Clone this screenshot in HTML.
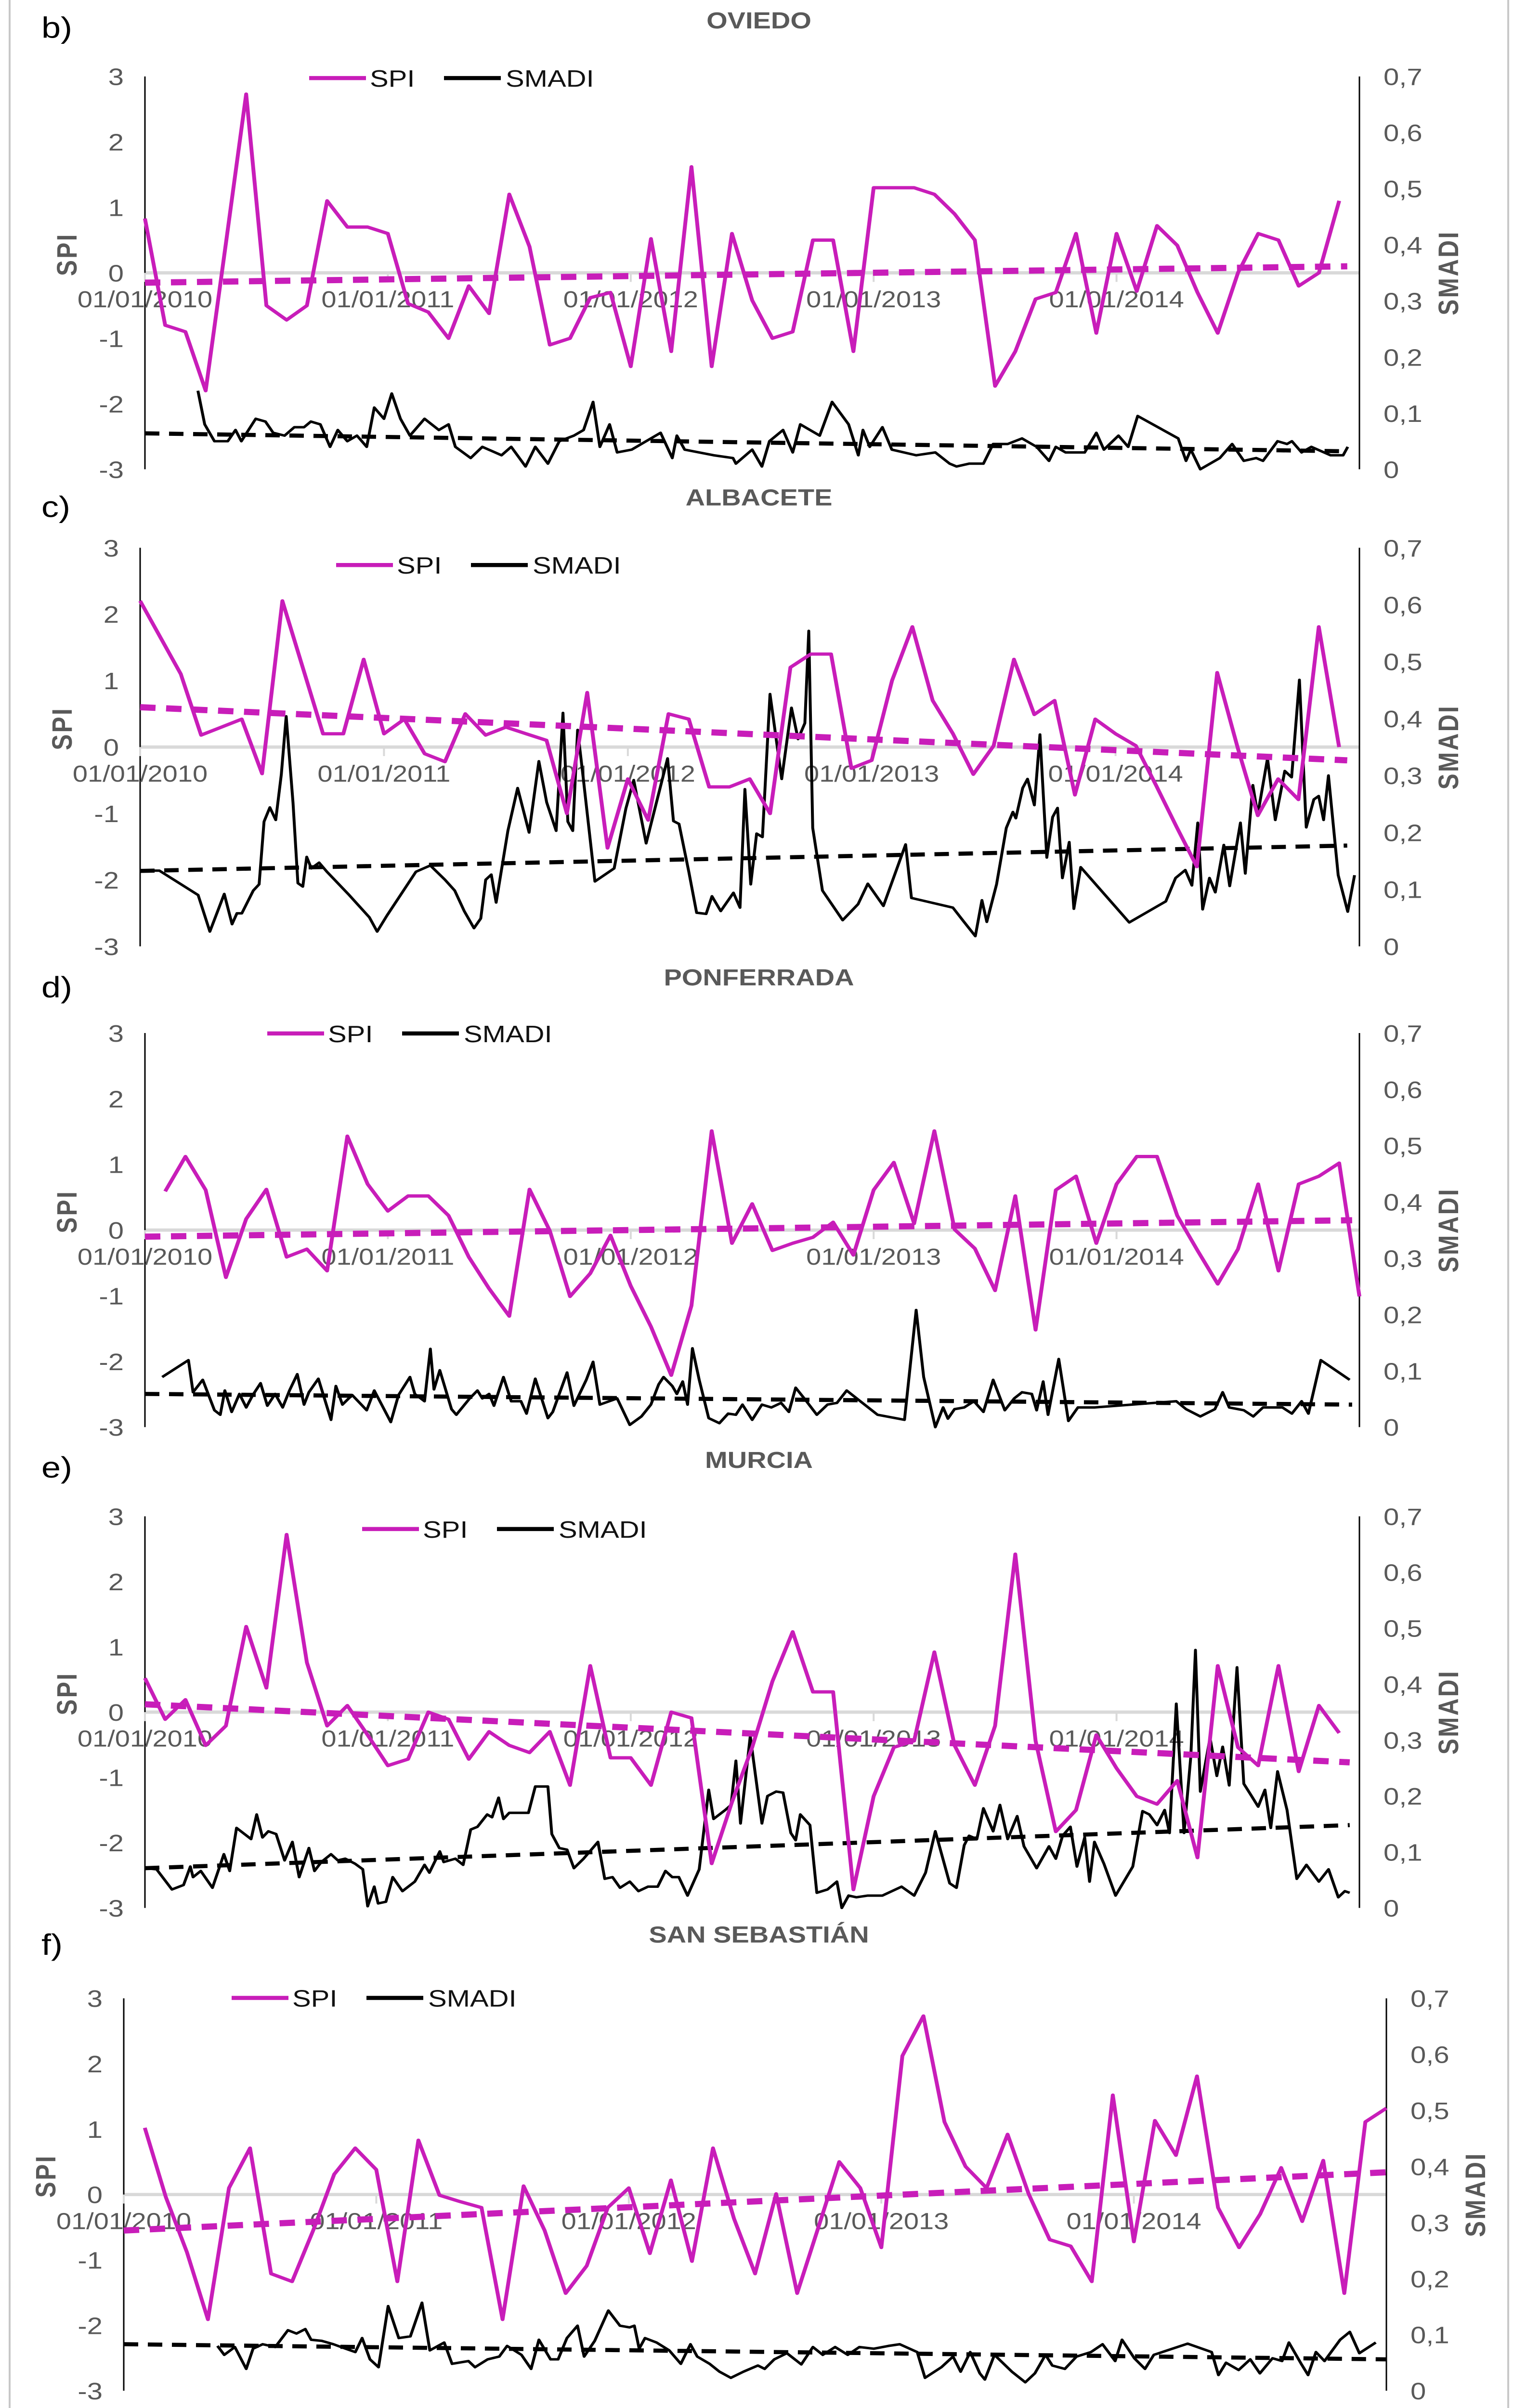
<!DOCTYPE html>
<html><head><meta charset="utf-8"><style>
html,body{margin:0;padding:0;background:#fff;width:100%;height:100%;overflow:hidden;}
svg{display:block;width:100vw;height:100vh;}
text{font-family:"Liberation Sans",Arial,sans-serif;}
</style></head><body>
<svg id="chart" xmlns="http://www.w3.org/2000/svg" viewBox="0 0 3144 5860" preserveAspectRatio="none">
<rect x="0" y="0" width="3144" height="5860" fill="#fff"/>
<line x1="20" y1="0" x2="20" y2="5860" stroke="#c8c8c8" stroke-width="4"/>
<line x1="3132" y1="0" x2="3132" y2="5860" stroke="#c8c8c8" stroke-width="4"/>
</svg>
<script>
// ---- shared tick labels ----
const spiTicks = [3, 2, 1, 0, -1, -2, -3];
const smadiTicks = [0.7, 0.6, 0.5, 0.4, 0.3, 0.2, 0.1, 0];
const yearLabels = ['01/01/2010', '01/01/2011', '01/01/2012', '01/01/2013', '01/01/2014'];
const stationNames = ['OVIEDO', 'ALBACETE', 'PONFERRADA', 'MURCIA', 'SAN SEBASTIÁN'];
const panelLetters = ['b)', 'c)', 'd)', 'e)', 'f)'];

// ---- OVIEDO ----
const oviedoSpi = [0.83,-0.8,-0.9,-1.8,0.45,2.73,-0.5,-0.72,-0.5,1.1,0.7,0.7,0.6,-0.47,-0.6,-1.0,-0.2,-0.62,1.2,0.4,-1.1,-1.0,-0.38,-0.3,-1.43,0.52,-1.2,1.62,-1.43,0.6,-0.42,-1.0,-0.9,0.5,0.5,-1.2,1.3,1.3,1.3,1.2,0.9,0.5,-1.73,-1.2,-0.4,-0.3,0.6,-0.92,0.6,-0.28,0.72,0.42,-0.3,-0.92,0,0.6,0.5,-0.2,0,1.1];
const oviedoSmadiT = [.218,.246,.286,.341,.373,.397,.456,.496,.528,.575,.615,.655,.683,.722,.762,.794,.833,.873,.913,.944,.984,1.016,1.052,1.091,1.151,1.21,1.25,1.278,1.341,1.389,1.468,1.508,1.567,1.607,1.659,1.706,1.766,1.806,1.845,1.873,1.913,1.944,2.004,2.123,2.171,2.19,2.222,2.341,2.421,2.433,2.5,2.54,2.571,2.627,2.667,2.698,2.778,2.829,2.897,2.937,2.956,2.984,3.036,3.075,3.175,3.254,3.313,3.341,3.393,3.452,3.492,3.552,3.611,3.671,3.722,3.75,3.79,3.869,3.917,3.948,4.008,4.048,4.087,4.254,4.286,4.306,4.345,4.425,4.476,4.524,4.575,4.603,4.663,4.702,4.722,4.762,4.802,4.881,4.933,4.952];
const oviedoSmadiV = [.14,.08,.05,.05,.07,.05,.09,.085,.065,.06,.075,.075,.085,.08,.04,.07,.05,.06,.04,.11,.09,.135,.09,.06,.09,.07,.08,.04,.02,.04,.025,.04,.005,.04,.01,.05,.06,.07,.12,.04,.08,.03,.035,.065,.02,.06,.035,.025,.02,.01,.035,.005,.05,.07,.03,.08,.06,.12,.08,.025,.07,.04,.075,.035,.025,.03,.01,.005,.01,.01,.045,.045,.055,.04,.015,.04,.03,.03,.065,.035,.06,.04,.095,.055,.015,.035,0,.02,.045,.015,.02,.015,.05,.045,.05,.03,.04,.025,.025,.04];
const oviedoSpiTrend = [-0.15, 0.1];
const oviedoSmadiTrend = [0.064, 0.032];

// ---- ALBACETE ----
const albaceteSpi = [2.2,1.65,1.1,0.18,0.3,0.42,-0.4,2.2,1.2,0.2,0.2,1.32,0.2,0.42,-0.1,-0.22,0.5,0.18,0.3,0.2,0.1,-1.0,0.82,-1.52,-0.48,-1.1,0.5,0.42,-0.6,-0.6,-0.48,-1.0,1.2,1.4,1.4,-0.32,-0.2,1.0,1.81,0.7,0.2,-0.41,0.02,1.32,0.49,0.7,-0.72,0.42,0.2,0.02,-0.58,-1.2,-1.8,1.12,0.0,-1.03,-0.48,-0.79,1.81,0.0];
const albaceteSmadiT = [0,.079,.238,.286,.345,.377,.397,.417,.464,.488,.508,.532,.556,.579,.599,.627,.647,.667,.683,.702,.734,.766,.853,.94,.972,1.012,1.131,1.19,1.25,1.29,1.329,1.369,1.397,1.417,1.44,1.46,1.508,1.548,1.595,1.635,1.667,1.706,1.734,1.754,1.774,1.794,1.813,1.865,1.944,1.992,2.024,2.075,2.163,2.187,2.21,2.25,2.282,2.321,2.345,2.381,2.433,2.46,2.48,2.504,2.528,2.552,2.583,2.631,2.671,2.698,2.726,2.742,2.758,2.798,2.881,2.944,2.984,3.048,3.139,3.163,3.333,3.373,3.425,3.452,3.472,3.512,3.552,3.579,3.591,3.619,3.639,3.667,3.69,3.718,3.742,3.762,3.782,3.81,3.829,3.857,4.056,4.206,4.246,4.286,4.313,4.337,4.357,4.385,4.409,4.444,4.468,4.512,4.532,4.563,4.583,4.623,4.655,4.694,4.722,4.754,4.782,4.813,4.833,4.853,4.873,4.913,4.952,4.98];
const albaceteSmadiV = [.133,.133,.09,.026,.092,.039,.058,.058,.098,.109,.219,.244,.222,.302,.404,.252,.111,.105,.157,.137,.147,.131,.092,.051,.026,.054,.131,.142,.117,.098,.062,.032,.049,.117,.126,.077,.203,.278,.2,.325,.253,.203,.41,.219,.203,.38,.311,.114,.137,.242,.292,.181,.33,.22,.215,.131,.059,.057,.088,.062,.094,.068,.276,.109,.198,.192,.443,.294,.419,.364,.392,.554,.208,.098,.046,.074,.11,.071,.179,.085,.068,.046,.018,.081,.043,.109,.208,.236,.225,.278,.294,.248,.372,.156,.227,.243,.12,.183,.066,.139,.042,.079,.12,.134,.107,.217,.065,.12,.095,.178,.106,.217,.128,.283,.231,.33,.222,.308,.297,.468,.209,.258,.264,.222,.3,.125,.061,.125];
const albaceteSpiTrend = [0.6, -0.2];
const albaceteSmadiTrend = [0.1325, 0.177];

// ---- PONFERRADA ----
const ponferradaSpi = [0.59,1.12,0.61,-0.72,0.17,0.62,-0.41,-0.29,-0.62,1.43,0.7,0.29,0.52,0.52,0.22,-0.41,-0.89,-1.31,0.62,-0.01,-1.01,-0.66,-0.08,-0.85,-1.47,-2.21,-1.15,1.51,-0.2,0.4,-0.31,-0.2,-0.11,0.12,-0.38,0.61,1.03,0.1,1.51,0.01,-0.28,-0.92,0.52,-1.52,0.61,0.82,-0.2,0.7,1.12,1.12,0.22,-0.31,-0.82,-0.29,0.7,-0.62,0.7,0.82,1.02,-1.01];
const ponferradaSmadiT = [.071,.179,.198,.238,.286,.31,.329,.357,.389,.417,.444,.476,.504,.536,.567,.595,.627,.655,.675,.714,.766,.786,.813,.853,.913,.944,1.012,1.044,1.091,1.111,1.151,1.175,1.19,1.214,1.262,1.282,1.337,1.369,1.389,1.417,1.437,1.476,1.508,1.548,1.571,1.607,1.659,1.679,1.738,1.766,1.817,1.845,1.873,1.944,1.996,2.044,2.083,2.115,2.135,2.171,2.19,2.214,2.234,2.254,2.282,2.321,2.365,2.401,2.433,2.46,2.5,2.54,2.579,2.619,2.651,2.679,2.718,2.766,2.81,2.849,2.889,3.016,3.127,3.175,3.206,3.254,3.286,3.306,3.333,3.373,3.413,3.452,3.492,3.54,3.579,3.611,3.651,3.671,3.698,3.718,3.762,3.802,3.841,3.909,4.246,4.286,4.345,4.405,4.437,4.464,4.524,4.563,4.603,4.683,4.722,4.762,4.79,4.841,4.96];
const ponferradaSmadiV = [.089,.119,.062,.084,.03,.022,.065,.027,.059,.035,.057,.078,.038,.059,.035,.065,.094,.04,.062,.086,.013,.073,.04,.057,.03,.065,.009,.057,.089,.059,.046,.139,.067,.101,.032,.022,.051,.065,.051,.059,.038,.089,.046,.046,.024,.086,.016,.027,.097,.038,.084,.116,.04,.051,.004,.019,.04,.076,.089,.073,.059,.081,.04,.14,.084,.016,.007,.024,.022,.04,.013,.04,.035,.043,.027,.07,.049,.022,.04,.043,.065,.022,.013,.208,.089,0,.035,.015,.032,.035,.046,.027,.084,.03,.051,.062,.059,.03,.081,.022,.121,.011,.035,.035,.046,.032,.019,.032,.062,.035,.03,.019,.035,.035,.024,.046,.024,.119,.084];
const ponferradaSpiTrend = [-0.1, 0.15];
const ponferradaSmadiTrend = [0.059, 0.040];

// ---- MURCIA ----
const murciaSpi = [0.52,-0.11,0.19,-0.51,-0.21,1.31,0.37,2.72,0.76,-0.21,0.1,-0.35,-0.82,-0.72,0,-0.11,-0.72,-0.3,-0.51,-0.62,-0.3,-1.12,0.71,-0.7,-0.7,-1.12,0,-0.09,-2.32,-1.38,-0.54,0.47,1.23,0.31,0.31,-2.72,-1.29,-0.54,-0.44,0.92,-0.51,-1.12,-0.21,2.42,-0.44,-1.83,-1.5,-0.35,-0.86,-1.29,-1.41,-1.05,-2.23,0.71,-0.54,-0.82,0.71,-0.91,0.1,-0.32];
const murciaSmadiT = [0,.048,.111,.159,.187,.198,.23,.278,.325,.349,.377,.437,.46,.484,.508,.54,.575,.607,.635,.675,.698,.726,.766,.794,.825,.865,.897,.917,.944,.96,.992,1.02,1.06,1.111,1.151,1.171,1.214,1.23,1.278,1.31,1.341,1.369,1.409,1.429,1.456,1.476,1.5,1.579,1.607,1.659,1.675,1.706,1.738,1.766,1.806,1.865,1.893,1.925,1.956,1.996,2.032,2.071,2.111,2.143,2.171,2.198,2.234,2.282,2.321,2.341,2.389,2.413,2.433,2.452,2.492,2.54,2.563,2.599,2.627,2.659,2.679,2.698,2.738,2.766,2.81,2.849,2.869,2.897,2.929,2.976,3.036,3.115,3.167,3.214,3.254,3.313,3.341,3.373,3.393,3.425,3.452,3.492,3.52,3.552,3.591,3.619,3.671,3.722,3.75,3.778,3.81,3.837,3.869,3.889,3.909,3.948,3.996,4.067,4.107,4.135,4.167,4.198,4.218,4.246,4.278,4.306,4.325,4.345,4.385,4.413,4.437,4.464,4.496,4.524,4.556,4.583,4.611,4.635,4.663,4.702,4.742,4.782,4.833,4.873,4.913,4.94,4.96];
const murciaSmadiV = [.071,.069,.033,.041,.074,.055,.066,.036,.096,.066,.143,.123,.167,.126,.137,.132,.085,.118,.055,.107,.066,.082,.096,.085,.088,.079,.069,.003,.038,.008,.011,.055,.03,.047,.077,.063,.101,.082,.088,.077,.14,.145,.167,.162,.197,.159,.17,.17,.217,.217,.132,.107,.104,.071,.088,.118,.052,.055,.036,.047,.03,.038,.038,.066,.055,.055,.022,.069,.211,.159,.175,.184,.263,.151,.307,.151,.2,.208,.206,.134,.121,.167,.148,.027,.033,.047,0,.022,.019,.022,.022,.038,.022,.063,.137,.044,.036,.112,.129,.123,.178,.137,.184,.123,.164,.11,.071,.11,.088,.129,.145,.074,.126,.047,.118,.079,.022,.074,.173,.167,.148,.175,.134,.365,.134,.271,.461,.208,.304,.236,.288,.219,.43,.222,.2,.181,.211,.143,.244,.175,.052,.077,.047,.069,.019,.03,.027];
const murciaSpiTrend = [0.12, -0.77];
const murciaSmadiTrend = [0.071, 0.148];

// ---- SAN SEBASTIAN ----
const sanSebastianSpi = [1.02,-0.04,-0.88,-1.91,0.1,0.71,-1.21,-1.33,-0.55,0.31,0.71,0.38,-1.33,0.83,-0.01,-0.11,-0.2,-1.91,0.13,-0.55,-1.51,-1.09,-0.2,0.1,-0.9,0.22,-1.02,0.71,-0.37,-1.21,0.01,-1.51,-0.51,0.5,0.1,-0.81,2.12,2.73,1.11,0.43,0.1,0.92,0.01,-0.69,-0.79,-1.33,1.52,-0.72,1.13,0.6,1.81,-0.2,-0.81,-0.3,0.41,-0.41,0.52,-1.51,1.11,1.32];
const sanSebastianSmadiT = [.371,.398,.44,.485,.512,.55,.6,.65,.684,.719,.742,.784,.83,.879,.917,.944,.975,1.009,1.047,1.089,1.135,1.181,1.212,1.269,1.3,1.365,1.391,1.441,1.487,1.518,1.575,1.613,1.644,1.69,1.72,1.755,1.797,1.823,1.865,1.919,1.965,2.003,2.022,2.041,2.064,2.11,2.16,2.206,2.244,2.271,2.32,2.359,2.404,2.454,2.511,2.538,2.576,2.626,2.683,2.729,2.768,2.817,2.867,2.913,2.97,3.028,3.073,3.142,3.173,3.238,3.284,3.314,3.352,3.39,3.41,3.448,3.517,3.57,3.608,3.65,3.677,3.727,3.773,3.83,3.876,3.926,3.953,4.002,4.044,4.079,4.213,4.308,4.335,4.365,4.415,4.461,4.499,4.549,4.587,4.614,4.664,4.69,4.721,4.755,4.817,4.855,4.893,4.958];
const sanSebastianSmadiV = [.08,.064,.078,.039,.075,.083,.078,.108,.102,.11,.091,.089,.083,.075,.069,.094,.056,.042,.151,.094,.097,.157,.072,.086,.048,.053,.042,.056,.061,.08,.064,.039,.091,.056,.056,.094,.116,.061,.089,.143,.116,.113,.116,.075,.094,.086,.072,.048,.083,.061,.048,.034,.023,.034,.045,.039,.056,.067,.047,.078,.064,.078,.064,.078,.075,.08,.083,.069,.023,.042,.061,.034,.069,.031,.02,.064,.034,.015,.031,.064,.045,.039,.061,.069,.083,.053,.091,.058,.039,.064,.084,.069,.028,.05,.037,.056,.031,.058,.053,.086,.047,.028,.069,.053,.091,.105,.067,.086];
const sanSebastianSpiTrend = [-0.55, 0.34];
const sanSebastianSmadiTrend = [0.083, 0.056];

// ---- layout (geometry only) ----
const layouts = [
  {left:301,right:2823,top:186,bottom:1142,titleY:69,letterY:92,off:0,legX:642,legY:190},
  {left:291,right:2823,top:1333,bottom:2303,titleY:1230,letterY:1258,off:0,legX:698,legY:1375},
  {left:301,right:2823,top:2514,bottom:3473,titleY:2398,letterY:2427,off:1,legX:555,legY:2515},
  {left:301,right:2823,top:3690,bottom:4643,titleY:3572,letterY:3596,off:0,legX:752,legY:3721},
  {left:257,right:2879,top:4863,bottom:5818,titleY:4727,letterY:4757,off:1,legX:481,legY:4862}
];
const series = [
  {spi:oviedoSpi,t:oviedoSmadiT,v:oviedoSmadiV,st:oviedoSpiTrend,mt:oviedoSmadiTrend,tEnd:4.95},
  {spi:albaceteSpi,t:albaceteSmadiT,v:albaceteSmadiV,st:albaceteSpiTrend,mt:albaceteSmadiTrend,tEnd:4.95},
  {spi:ponferradaSpi,t:ponferradaSmadiT,v:ponferradaSmadiV,st:ponferradaSpiTrend,mt:ponferradaSmadiTrend,tEnd:4.97},
  {spi:murciaSpi,t:murciaSmadiT,v:murciaSmadiV,st:murciaSpiTrend,mt:murciaSmadiTrend,tEnd:4.96},
  {spi:sanSebastianSpi,t:sanSebastianSmadiT,v:sanSebastianSmadiV,st:sanSebastianSpiTrend,mt:sanSebastianSmadiTrend,tEnd:5.0}
];

const NS = 'http://www.w3.org/2000/svg';
const svg = document.getElementById('chart');
const MAG = '#c81db9';
const GRAY = '#595959';
function mk(tag, parent, attrs) {
  const e = document.createElementNS(NS, tag);
  for (const k in attrs) e.setAttribute(k, attrs[k]);
  parent.appendChild(e);
  return e;
}

layouts.forEach((L, p) => {
  const D = series[p];
  const g = mk('g', svg, {});
  
  
  const zero = (L.top + L.bottom) / 2;
  const xOf = t => L.left + t * (L.right - L.left) / 5;
  const ySpi = v => zero - v * (L.bottom - L.top) / 6;
  const ySm = v => L.bottom - v * (L.bottom - L.top) / 0.7;

  const lt = mk('text', g, {x: 86, y: L.letterY, 'font-size': 72, fill: '#000'});
  lt.textContent = panelLetters[p];
  
  
  const tt = mk('text', g, {x: 1576, y: L.titleY, 'font-size': 56, 'font-weight': 'bold', fill: GRAY, 'text-anchor': 'middle'});
  tt.textContent = stationNames[p];
  
  

  const zl = mk('line', g, {x1: L.left, x2: L.right, y1: zero, y2: zero, stroke: '#d9d9d9', 'stroke-width': 8});
  
  

  const la = mk('line', g, {x1: L.left, x2: L.left, y1: L.top, y2: L.bottom, stroke: '#000', 'stroke-width': 3});
  
  
  const ra = mk('line', g, {x1: L.right, x2: L.right, y1: L.top, y2: L.bottom, stroke: '#000', 'stroke-width': 3});
  
  

  spiTicks.forEach(v => {
    const t = mk('text', g, {x: L.left - 44, y: ySpi(v) + 21, 'font-size': 58, fill: GRAY, 'text-anchor': 'end'});
    t.textContent = String(v);
    
    
  });
  smadiTicks.forEach(v => {
    const t = mk('text', g, {x: L.right + 50, y: ySm(v) + 21, 'font-size': 58, fill: GRAY});
    t.textContent = v === 0 ? '0' : String(v).replace('.', ',');
    
    
  });
  yearLabels.forEach((lab, i) => {
    const tk = mk('line', g, {x1: xOf(i), x2: xOf(i), y1: zero, y2: zero + 22, stroke: '#d9d9d9', 'stroke-width': 4});
    
    
    const t = mk('text', g, {x: xOf(i), y: zero + 84, 'font-size': 56, fill: GRAY, 'text-anchor': 'middle'});
    t.textContent = lab;
    
    
  });

  const ys = zero - 45;
  const at1 = mk('text', g, {x: 0, y: 0, 'font-size': 58, 'font-weight': 'bold', fill: GRAY, 'text-anchor': 'middle', transform: `translate(${L.left - 142},${ys}) rotate(-90)`, 'letter-spacing': 4});
  at1.textContent = 'SPI';
  
  
  const at2 = mk('text', g, {x: 0, y: 0, 'font-size': 58, 'font-weight': 'bold', fill: GRAY, 'text-anchor': 'middle', transform: `translate(${L.right + 205},${zero}) rotate(-90)`, 'letter-spacing': 4});
  at2.textContent = 'SMADI';
  
  

  const mt = mk('line', g, {x1: xOf(0), y1: ySm(D.mt[0]), x2: xOf(D.tEnd), y2: ySm(D.mt[1]), stroke: '#000', 'stroke-width': 10, 'stroke-dasharray': '30 20'});
  
  
  const smPts = D.t.map((t, i) => xOf(t).toFixed(1) + ',' + ySm(D.v[i]).toFixed(1)).join(' ');
  const sm = mk('polyline', g, {points: smPts, fill: 'none', stroke: '#000', 'stroke-width': 6, 'stroke-linejoin': 'round'});
  
  
  const st = mk('line', g, {x1: xOf(0), y1: ySpi(D.st[0]), x2: xOf(D.tEnd), y2: ySpi(D.st[1]), stroke: MAG, 'stroke-width': 15, 'stroke-dasharray': '32 22'});
  
  
  const spPts = D.spi.map((v, i) => xOf((i + L.off) / 12).toFixed(1) + ',' + ySpi(v).toFixed(1)).join(' ');
  const sp = mk('polyline', g, {points: spPts, fill: 'none', stroke: MAG, 'stroke-width': 8, 'stroke-linejoin': 'round'});
  
  

  const l1 = mk('line', g, {x1: L.legX, x2: L.legX + 118, y1: L.legY, y2: L.legY, stroke: MAG, 'stroke-width': 10});
  
  
  const t1 = mk('text', g, {x: L.legX + 126, y: L.legY + 21, 'font-size': 58, fill: '#111'});
  t1.textContent = 'SPI';
  
  
  const l2 = mk('line', g, {x1: L.legX + 280, x2: L.legX + 398, y1: L.legY, y2: L.legY, stroke: '#000', 'stroke-width': 10});
  
  
  const t2 = mk('text', g, {x: L.legX + 408, y: L.legY + 21, 'font-size': 58, fill: '#111'});
  t2.textContent = 'SMADI';
  
  
});
</script>
</body></html>
